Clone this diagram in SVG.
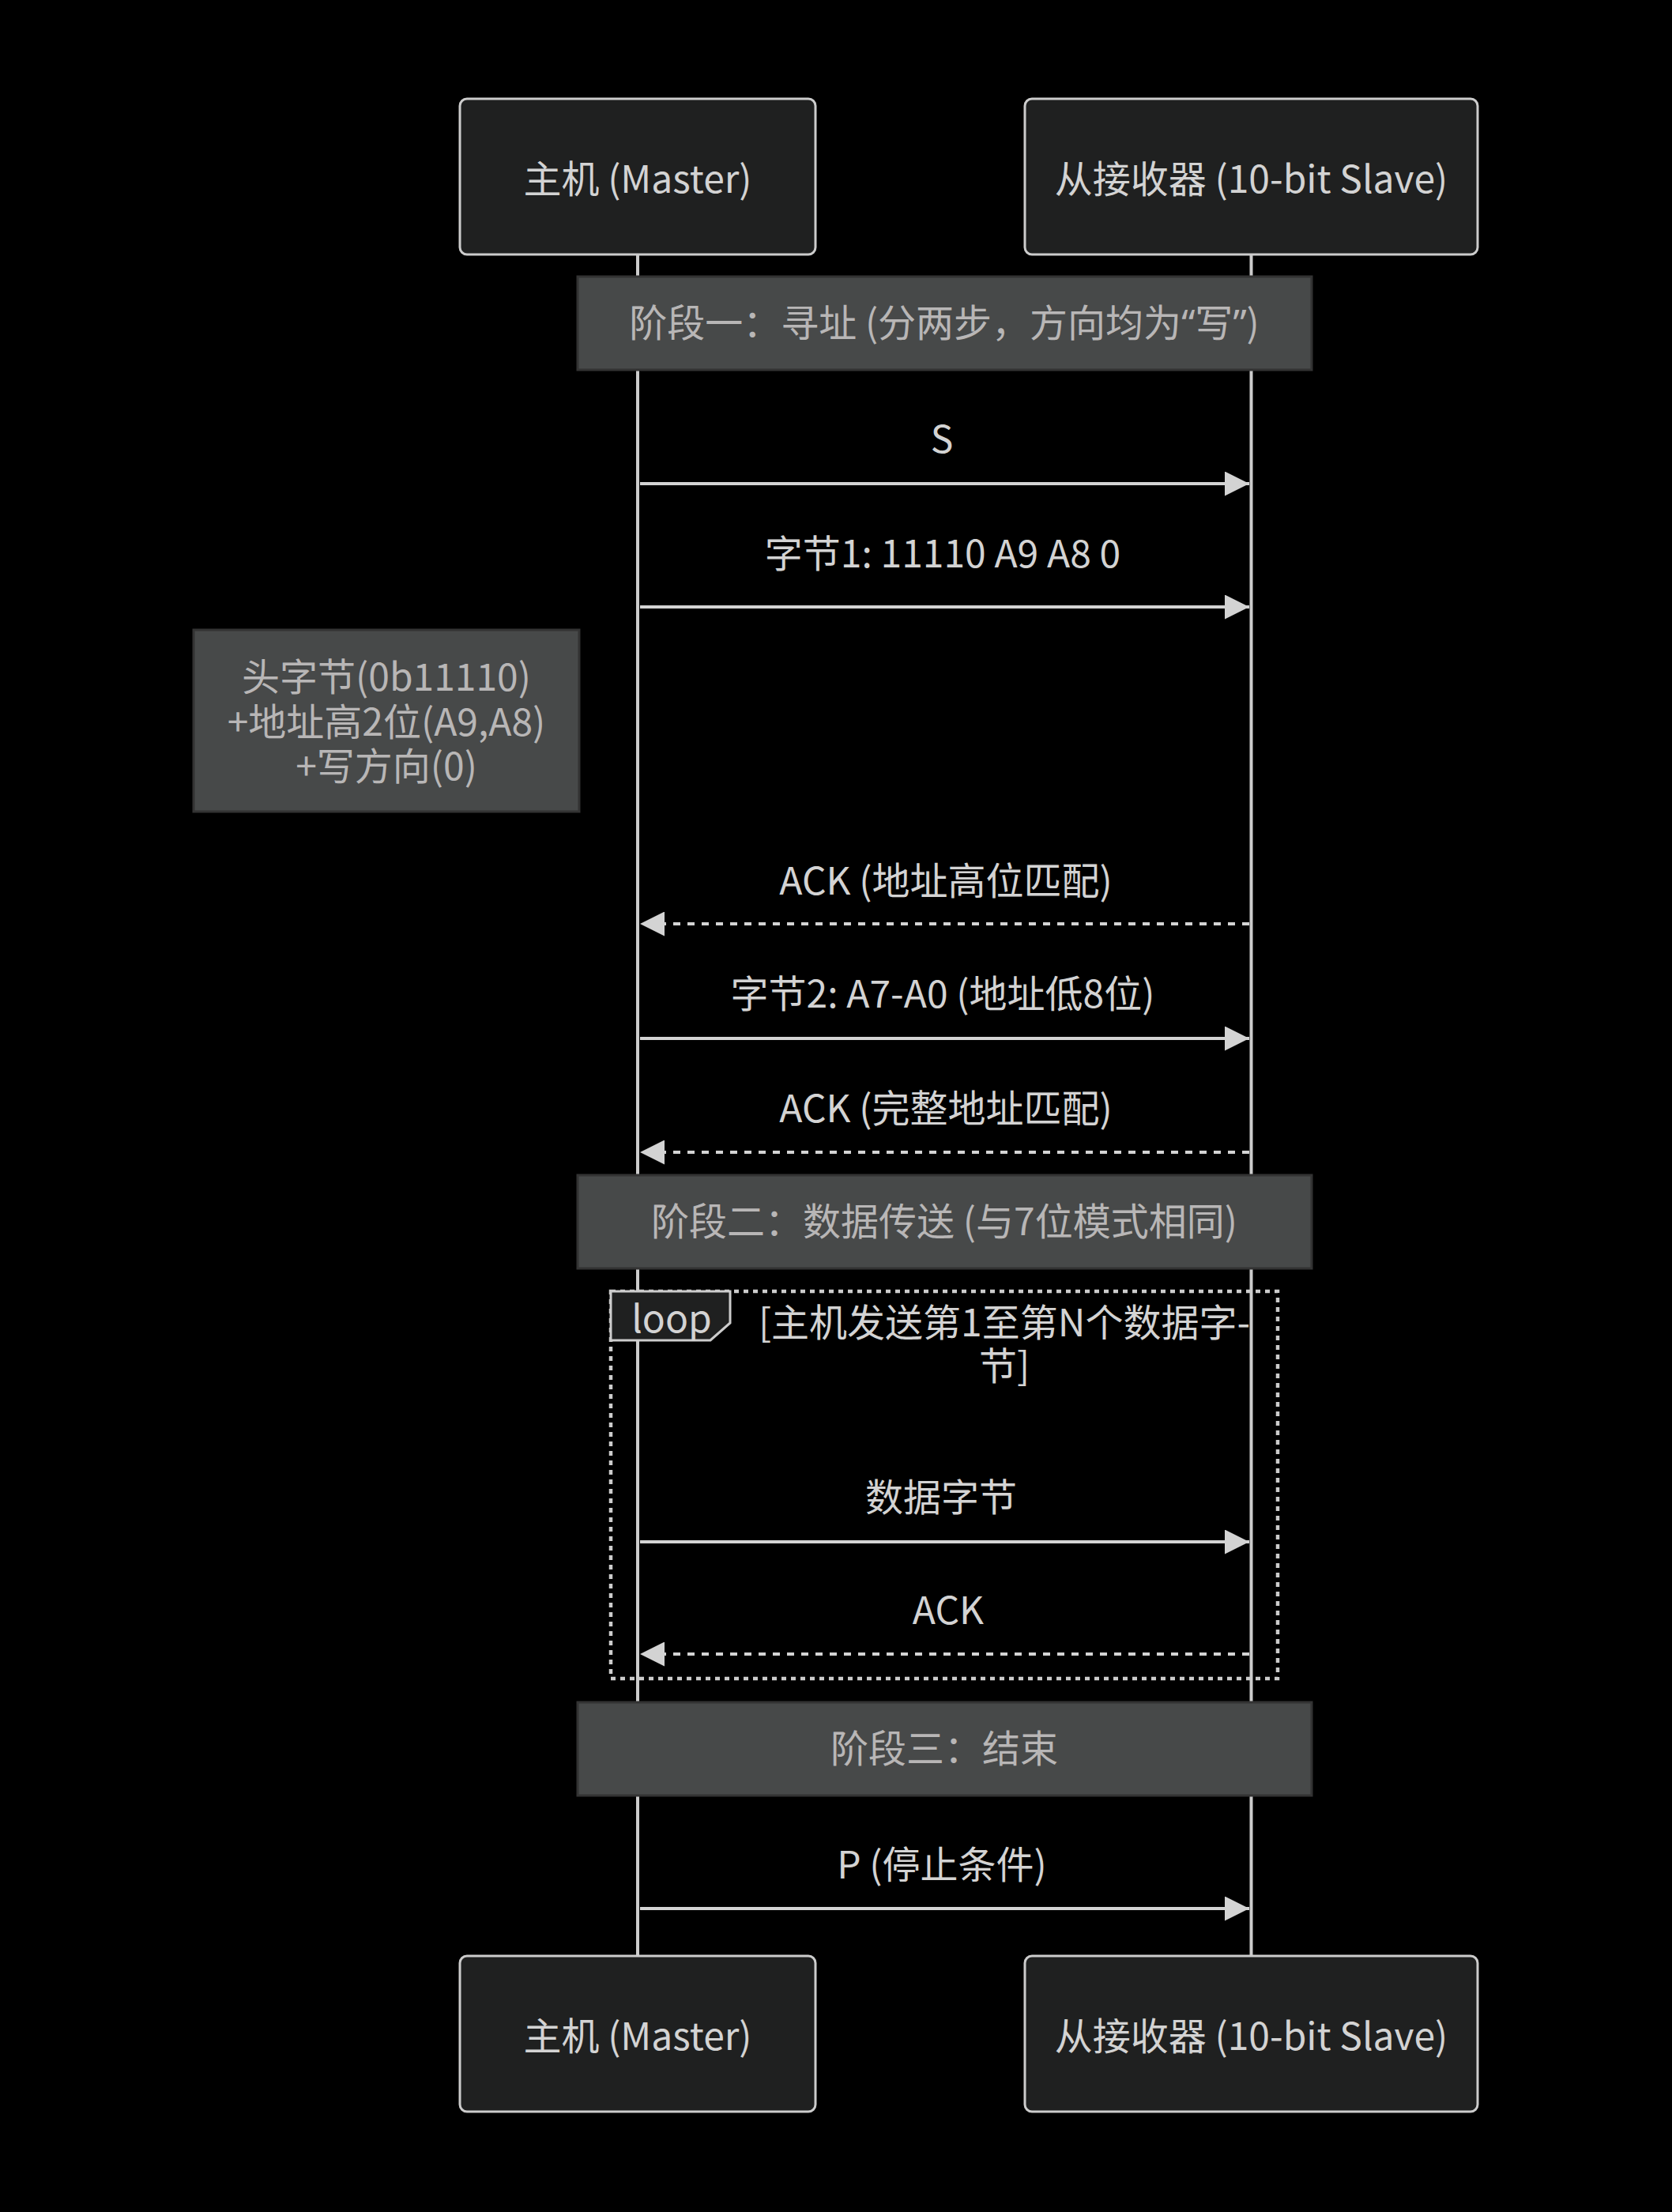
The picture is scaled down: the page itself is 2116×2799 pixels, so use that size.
<svg xmlns="http://www.w3.org/2000/svg" width="2116" height="2799" viewBox="0 0 2116 2799">
<defs>
<style>
text{font-family:"Noto Sans CJK SC","Noto Sans",sans-serif;font-size:48px;}
.latin{font-family:"Noto Sans",sans-serif;}
.actor{fill:#1f2020;stroke:#cccccc;stroke-width:3;}
.actorText{fill:#d3d3d3;text-anchor:middle;}
.life{stroke:#cccccc;stroke-width:4;}
.note{fill:#474949;stroke:#333333;stroke-width:3;}
.noteText{fill:#b8b6b6;text-anchor:middle;}
.msg{stroke:#d3d3d3;stroke-width:4;fill:none;}
.dash{stroke-dasharray:9 9;}
.msgText{fill:#d3d3d3;text-anchor:middle;}
.loopLine{fill:none;stroke:#cccccc;stroke-width:4.5;stroke-dasharray:6 6;}
.labelBox{fill:#1f2020;stroke:#cccccc;stroke-width:3;}
</style>
<marker id="arrow" viewBox="0 0 10 10" refX="10" refY="5" markerWidth="32" markerHeight="31" markerUnits="userSpaceOnUse" orient="auto">
<path d="M0,0 L10,5 L0,10 z" fill="#d3d3d3" stroke="none"/>
</marker>
</defs>
<rect width="2116" height="2799" fill="#000000"/>

<g id="lifelines">
<line class="life" x1="807" y1="322" x2="807" y2="2475"/>
<line class="life" x1="1583.5" y1="322" x2="1583.5" y2="2475"/>
</g>

<g id="master-top">
<rect class="actor" x="582" y="125" width="450" height="197" rx="9"/>
<text class="actorText" x="807" y="244">主机 (Master)</text>
</g>
<g id="slave-top">
<rect class="actor" x="1297" y="125" width="573" height="197" rx="9"/>
<text class="actorText" x="1583.5" y="244">从接收器 (10-bit Slave)</text>
</g>

<g id="note-phase1">
<rect class="note" x="731" y="350" width="929" height="118"/>
<text class="noteText" x="1195" y="426">阶段一：寻址 (分两步，方向均为<tspan class="latin">“</tspan>写<tspan class="latin">”</tspan>)</text>
</g>

<g id="note-header">
<rect class="note" x="245" y="797" width="488" height="230"/>
<text class="noteText" x="489" y="874">头字节(0b11110)</text>
<text class="noteText" x="489" y="931">+地址高2位(A9,A8)</text>
<text class="noteText" x="489" y="987">+写方向(0)</text>
</g>

<g id="note-phase2">
<rect class="note" x="731" y="1487" width="929" height="118"/>
<text class="noteText" x="1195" y="1563">阶段二：数据传送 (与7位模式相同)</text>
</g>

<g id="loop">
<rect class="loopLine" x="773" y="1634" width="844" height="490"/>
<polygon class="labelBox" points="773,1634 924,1634 924,1674 899,1696 773,1696"/>
<text class="msgText" x="850" y="1686">loop</text>
<text class="msgText" x="1271" y="1691">[主机发送第1至第N个数据字-</text>
<text class="msgText" x="1271" y="1746">节]</text>
</g>

<g id="note-phase3">
<rect class="note" x="731" y="2154" width="929" height="118"/>
<text class="noteText" x="1195" y="2230">阶段三：结束</text>
</g>

<g id="connectors">
<line class="msg" x1="810" y1="612" x2="1581" y2="612" marker-end="url(#arrow)"/>
<text class="msgText" x="1192" y="573">S</text>
<line class="msg" x1="810" y1="768" x2="1581" y2="768" marker-end="url(#arrow)"/>
<text class="msgText" x="1193" y="718">字节1: 11110 A9 A8 0</text>
<line class="msg dash" x1="1581" y1="1169" x2="810" y2="1169" marker-end="url(#arrow)"/>
<text class="msgText" x="1197" y="1132">ACK (地址高位匹配)</text>
<line class="msg" x1="810" y1="1314" x2="1581" y2="1314" marker-end="url(#arrow)"/>
<text class="msgText" x="1193" y="1275">字节2: A7-A0 (地址低8位)</text>
<line class="msg dash" x1="1581" y1="1458" x2="810" y2="1458" marker-end="url(#arrow)"/>
<text class="msgText" x="1197" y="1420">ACK (完整地址匹配)</text>
<line class="msg" x1="810" y1="1951" x2="1581" y2="1951" marker-end="url(#arrow)"/>
<text class="msgText" x="1191" y="1912">数据字节</text>
<line class="msg dash" x1="1581" y1="2093" x2="810" y2="2093" marker-end="url(#arrow)"/>
<text class="msgText" x="1200" y="2055">ACK</text>
<line class="msg" x1="810" y1="2415" x2="1581" y2="2415" marker-end="url(#arrow)"/>
<text class="msgText" x="1192" y="2377">P (停止条件)</text>
</g>

<g id="master-bottom">
<rect class="actor" x="582" y="2475" width="450" height="197" rx="9"/>
<text class="actorText" x="807" y="2594">主机 (Master)</text>
</g>
<g id="slave-bottom">
<rect class="actor" x="1297" y="2475" width="573" height="197" rx="9"/>
<text class="actorText" x="1583.5" y="2594">从接收器 (10-bit Slave)</text>
</g>
</svg>
